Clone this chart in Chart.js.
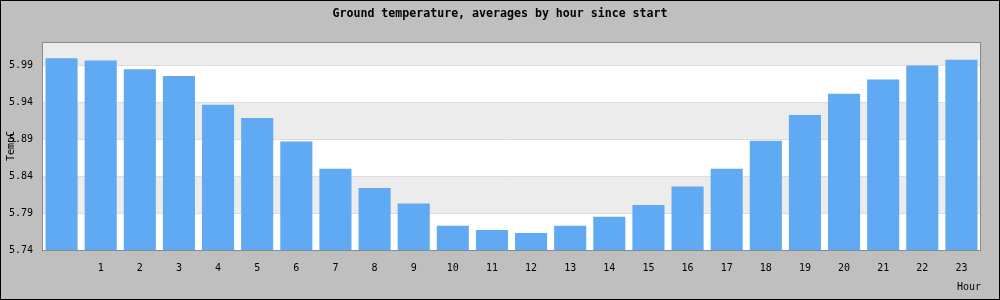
<!DOCTYPE html>
<html>
<head>
<meta charset="utf-8">
<title>Ground temperature</title>
<script src="https://cdn.jsdelivr.net/npm/chart.js@4/dist/chart.umd.min.js"></script>
<style>
  body { margin: 0; background: #bfbfbf; }
</style>
</head>
<body>
<canvas id="tempChart" width="1000" height="300"></canvas>
<script>
// Chart data
const chartTitle = 'Ground temperature, averages by hour since start';
const hours = [0, 1, 2, 3, 4, 5, 6, 7, 8, 9, 10, 11, 12, 13, 14, 15, 16, 17, 18, 19, 20, 21, 22, 23];
const temps = [6.000, 5.997, 5.985, 5.976, 5.937, 5.919, 5.887, 5.850, 5.824, 5.803, 5.773, 5.767,
               5.763, 5.773, 5.785, 5.801, 5.826, 5.850, 5.888, 5.923, 5.952, 5.971, 5.990, 5.998];
const yTicks = [5.74, 5.79, 5.84, 5.89, 5.94, 5.99];
const yMin = 5.74;
const yMax = 6.022;

const monoFont = "'DejaVu Sans Mono', monospace";

// Background, alternating bands, frame and the title
const framePlugin = {
    id: 'frame',
    beforeDraw(chart) {
        const ctx = chart.ctx;
        const area = chart.chartArea;
        const y = chart.scales.y;
        ctx.save();
        ctx.fillStyle = '#bfbfbf';
        ctx.fillRect(0, 0, chart.width, chart.height);
        ctx.fillStyle = '#ffffff';
        ctx.fillRect(area.left, area.top, area.right - area.left, area.bottom - area.top);
        ctx.fillStyle = '#ececec';
        for (let i = 1; i < yTicks.length; i += 2) {
            const top = i + 1 < yTicks.length ? y.getPixelForValue(yTicks[i + 1]) : area.top;
            const bottom = y.getPixelForValue(yTicks[i]);
            ctx.fillRect(area.left, top, area.right - area.left, bottom - top);
        }
        ctx.restore();
    },
    afterDraw(chart) {
        const ctx = chart.ctx;
        const area = chart.chartArea;
        ctx.save();
        ctx.strokeStyle = '#8a8a8a';
        ctx.lineWidth = 1;
        ctx.strokeRect(Math.round(area.left) + 0.5, Math.round(area.top) + 0.5,
                       Math.round(area.right - area.left) - 1, Math.round(area.bottom - area.top));
        ctx.strokeStyle = '#000000';
        ctx.strokeRect(0.5, 0.5, chart.width - 1, chart.height - 1);

        ctx.fillStyle = '#000000';
        ctx.font = 'bold 11.6px ' + monoFont;
        ctx.textAlign = 'center';
        ctx.textBaseline = 'middle';
        ctx.fillText(chartTitle, chart.width / 2, 13.5);
        ctx.restore();
    }
};

const ctx = document.getElementById('tempChart').getContext('2d');
new Chart(ctx, {
    type: 'bar',
    data: {
        labels: hours,
        datasets: [{
            label: 'TempC',
            data: temps,
            backgroundColor: '#60a9f3',
            borderWidth: 0,
            barPercentage: 0.82,
            categoryPercentage: 1.0
        }]
    },
    options: {
        responsive: false,
        animation: false,
        devicePixelRatio: 1,
        layout: {
            padding: { left: 0, right: 19, top: 42, bottom: 0 }
        },
        plugins: {
            legend: { display: false },
            tooltip: { enabled: false },
            title: { display: false }
        },
        scales: {
            x: {
                grid: { display: false, drawTicks: false },
                border: { display: false },
                ticks: {
                    color: '#000000',
                    font: { family: monoFont, size: 10 },
                    padding: 12,
                    maxRotation: 0,
                    autoSkip: false,
                    callback: function(value, index) {
                        return hours[index] === 0 ? '' : String(hours[index]);
                    }
                },
                title: {
                    display: true,
                    text: 'Hour',
                    align: 'end',
                    color: '#000000',
                    font: { family: monoFont, size: 10 },
                    padding: { top: 0, bottom: 7 }
                },
                afterFit: function(scale) { scale.height = 50; }
            },
            y: {
                min: yMin,
                max: yMax,
                grid: { color: '#dddddd', drawTicks: false },
                border: { display: false },
                ticks: {
                    color: '#000000',
                    font: { family: monoFont, size: 10 },
                    padding: 9,
                    stepSize: 0.05,
                    callback: function(value) { return value.toFixed(2); }
                },
                afterBuildTicks: function(scale) {
                    scale.ticks = yTicks.map(v => ({ value: v }));
                },
                title: {
                    display: true,
                    text: 'TempC',
                    color: '#000000',
                    font: { family: monoFont, size: 10 },
                    padding: { top: 5, bottom: 0 }
                },
                afterFit: function(scale) { scale.width = 42; }
            }
        }
    },
    plugins: [framePlugin]
});
</script>
</body>
</html>
